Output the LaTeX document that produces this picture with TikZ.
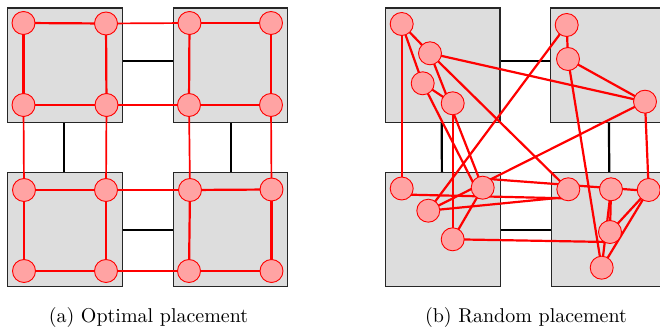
\documentclass[tikz,border=0pt]{standalone}
\usetikzlibrary{calc}
\definecolor{sqfill}{RGB}{221,221,221}
\definecolor{vfill}{RGB}{255,163,163}
\begin{document}
\begin{tikzpicture}[x=0.5pt,y=-0.5pt,
  sq/.style={rectangle,fill=sqfill,draw=black!85,line width=0.55pt,minimum size=57.25pt,inner sep=0pt},
  link/.style={draw=black,line width=1.1pt},
  redge/.style={draw=red,line width=1.1pt},
  xedge/.style={draw=red,line width=0.85pt},
  vtx/.style={circle,fill=vfill,draw=red,line width=0.45pt,minimum size=11.5pt,inner sep=0pt},
  captext/.style={anchor=base,font=\normalsize}]
\useasboundingbox (0,0) rectangle (660,331);
\clip (0,0) rectangle (660,331);

% ---------- (a) squares ----------
\node[sq] (p1) at (65,65.3) {};
\node[sq] (p2) at (230.5,65.3) {};
\node[sq] (p3) at (65,229.7) {};
\node[sq] (p4) at (230.5,229.7) {};
\draw[link] ($(p1.east)+(0,-4)$) -- ($(p2.west)+(0,-4)$);
\draw[link] ($(p3.east)+(0,0.5)$) -- ($(p4.west)+(0,0.5)$);
\draw[link] ($(p1.south)+(-1,0)$) -- ($(p3.north)+(-1,0)$);
\draw[link] ($(p2.south)+(0.5,0)$) -- ($(p4.north)+(0.5,0)$);

% ---------- (b) squares ----------
\node[sq] (q1) at (442.7,65.3) {};
\node[sq] (q2) at (607.9,65.3) {};
\node[sq] (q3) at (442.9,229.7) {};
\node[sq] (q4) at (608.3,229.7) {};
\draw[link] ($(q1.east)+(0,-4)$) -- ($(q2.west)+(0,-4)$);
\draw[link] ($(q3.east)+(0,0.5)$) -- ($(q4.west)+(0,0.5)$);
\draw[link] ($(q1.south)+(-1,0)$) -- ($(q3.north)+(-1,0)$);
\draw[link] ($(q2.south)+(1,0)$) -- ($(q4.north)+(1,0)$);

% ---------- (a) vertices ----------
\coordinate (a11) at (23.5,23);  \coordinate (a12) at (106,23.5);  \coordinate (a13) at (189.5,23);  \coordinate (a14) at (271,23);
\coordinate (a21) at (23.5,105); \coordinate (a22) at (106.5,105); \coordinate (a23) at (189,105);  \coordinate (a24) at (271,105);
\coordinate (a31) at (24,190);   \coordinate (a32) at (106,190);   \coordinate (a33) at (190,190);  \coordinate (a34) at (271.5,189.5);
\coordinate (a41) at (24,271);   \coordinate (a42) at (106,271);   \coordinate (a43) at (189,271);  \coordinate (a44) at (271.5,271);

\foreach \r in {1,2,3,4}{
  \draw[redge] (a\r1) -- (a\r2);
  \draw[redge] (a\r3) -- (a\r4);
  \draw[xedge] (a\r2) -- (a\r3);
}
\foreach \c in {1,2,3,4}{
  \draw[redge] (a1\c) -- (a2\c);
  \draw[redge] (a3\c) -- (a4\c);
  \draw[xedge] (a2\c) -- (a3\c);
}

% ---------- (b) vertices ----------
\coordinate (A) at (401.7,24);
\coordinate (B) at (430,53.3);
\coordinate (C) at (422.7,83.3);
\coordinate (D) at (452.7,103.3);
\coordinate (E) at (566.7,25);
\coordinate (F) at (568,59);
\coordinate (G) at (645,101.7);
\coordinate (H) at (401.7,188.5);
\coordinate (I) at (428.3,210.7);
\coordinate (J) at (482.7,187.7);
\coordinate (K) at (452.7,239.3);
\coordinate (L) at (568.3,189.3);
\coordinate (M) at (611,189.3);
\coordinate (N) at (648.7,190);
\coordinate (O) at (610,232);
\coordinate (P) at (601.7,267.7);

\draw[redge] (A) -- (B);
\draw[redge] (A) -- (C);
\draw[redge] (A) -- (H);
\draw[redge] (B) -- (G);
\draw[redge] (B) -- (L);
\draw[redge] (B) -- (J);
\draw[redge] (C) -- (D);
\draw[redge] (C) -- ($(J)+(-7,0)$);
\draw[redge] (D) -- (K);
\draw[redge] (E) -- (F);
\draw[redge] (E) -- (I);
\draw[redge] (F) -- (G);
\draw[redge] (F) -- (P);
\draw[redge] (G) -- (I);
\draw[redge] (G) -- (N);
\draw[redge] ($(H)+(0,6)$) -- ($(L)+(-4,9)$);
\draw[redge] (I) -- ($(L)+(-4,8)$);
\draw[redge] (J) -- (K);
\draw[redge] ($(J)+(2,-9)$) -- ($(N)+(0,1)$);
\draw[redge] (K) -- ($(O)+(-2,10)$);
\draw[redge] (M) -- (O);
\draw[redge] (M) -- (P);
\draw[redge] (N) -- (O);
\draw[redge] (N) -- (P);

% ---------- circles ----------
\foreach \r in {1,2,3,4}{
  \foreach \c in {1,2,3,4}{
    \node[vtx] (va\r\c) at (a\r\c) {};
  }
}
\foreach \v in {A,B,C,D,E,F,G,H,I,J,K,L,M,N,O,P}{
  \node[vtx] (v\v) at (\v) {};
}

% ---------- captions ----------
\node[captext] (capa) at (148.5,323) {(a) Optimal placement};
\node[captext] (capb) at (526,323) {(b) Random placement};
\end{tikzpicture}
\end{document}
